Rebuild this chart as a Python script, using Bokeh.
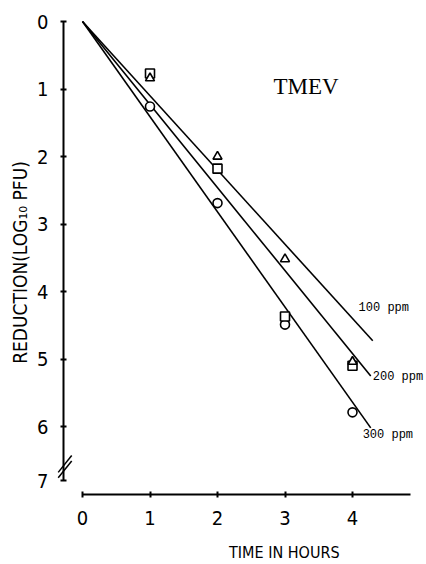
import math
from bokeh.plotting import figure
from bokeh.models import Range1d, FixedTicker
from bokeh.core.properties import value
from bokeh.embed import file_html
from bokeh.resources import INLINE

# ---- data ----
hours = [1, 2, 3, 4]
red_100ppm = [0.84, 2.00, 3.52, 5.04]   # triangles
red_200ppm = [0.77, 2.18, 4.37, 5.10]   # squares
red_300ppm = [1.26, 2.69, 4.49, 5.79]   # circles

line_names = ["100  ppm", "200  ppm", "300  ppm"]
line_slopes = [1.10, 1.23, 1.41]        # log10 reduction per hour (fitted lines)
line_end_t = [4.30, 4.27, 4.27]

x_ticks = [0, 1, 2, 3, 4]
y_ticks = [0, 1, 2, 3, 4, 5, 6, 6.8]
y_tick_labels = ["0", "1", "2", "3", "4", "5", "6", "7"]

title_text = "TMEV"
x_label = "TIME IN HOURS"
y_label = "REDUCTION(LOG\u2081\u2080 PFU)"

NARROW = "'Liberation Sans Narrow', 'DejaVu Sans Condensed', 'DejaVu Sans', sans-serif"

W, H = 426, 564
PX = 67.5                 # pixels per unit (both axes)
X0PX, Y0PX = 82, 21       # pixel position of the origin (t=0, v=0)
x0 = -X0PX / PX
y_top = -Y0PX / PX
p = figure(width=W, height=H, output_backend="svg", toolbar_location=None,
           x_range=Range1d(x0, x0 + W / PX),
           y_range=Range1d(y_top + H / PX, y_top),
           min_border_left=0, min_border_right=0, min_border_top=0, min_border_bottom=0)
p.outline_line_color = None
p.grid.visible = False
p.background_fill_color = "white"
p.border_fill_color = "white"

for ax in (p.xaxis[0], p.yaxis[0]):
    ax.axis_line_width = 2
    ax.axis_line_color = "black"
    ax.major_tick_line_width = 2
    ax.major_tick_line_color = "black"
    ax.major_tick_in = 3
    ax.major_tick_out = 3
    ax.minor_tick_line_color = None
    ax.major_label_text_font = NARROW
    ax.major_label_text_font_size = "20px"
    ax.major_label_text_color = "black"

xa = p.xaxis[0]
xa.fixed_location = 7.007
xa.ticker = FixedTicker(ticks=x_ticks)
xa.bounds = (0, 4.86)
xa.major_label_standoff = 14

ya = p.yaxis[0]
ya.fixed_location = -0.2815
ya.ticker = FixedTicker(ticks=y_ticks)
ya.bounds = (0, 6.8)
ya.major_label_overrides = {t: l for t, l in zip(y_ticks, y_tick_labels)}
ya.major_label_standoff = 12
ya.major_label_orientation = "horizontal"

# fitted lines from origin
for s, te in zip(line_slopes, line_end_t):
    p.line([0, te], [0, s * te], line_color="black", line_width=1.6)

# data points
mk = dict(line_color="black", line_width=1.6, fill_color="white", size=9)
p.scatter(hours, red_300ppm, marker="circle", **mk)
p.scatter(hours, red_200ppm, marker="square", **mk)
p.scatter(hours, red_100ppm, marker="triangle", **mk)

# line labels
p.text(x=[4.09, 4.30, 4.15], y=[4.24, 5.26, 6.13], text=line_names,
       text_font=value("Liberation Mono"), text_font_size="12px",
       text_align="left", text_baseline="middle", text_color="black")

p.text(x=[2.83], y=[0.96], text=[title_text], text_font=value("Liberation Serif"),
       text_font_size="23px", text_align="left", text_baseline="alphabetic",
       text_color="black")

# axis titles
p.text(x=[2.99], y=[7.87], text=[x_label], text_font=value(NARROW),
       text_font_size="16px", text_align="center", text_baseline="middle",
       text_color="black")
p.text(x=[-0.92], y=[3.57], text=[y_label], text_font=value(NARROW),
       text_font_size="19px", text_align="center", text_baseline="middle",
       angle=math.pi / 2, text_color="black")

# axis break mark on the y axis
p.segment(x0=[-0.36, -0.36], y0=[6.68, 6.76], x1=[-0.16, -0.16], y1=[6.43, 6.51],
          line_color="black", line_width=1.5)

open("out.html", "w").write(file_html(p, INLINE))
